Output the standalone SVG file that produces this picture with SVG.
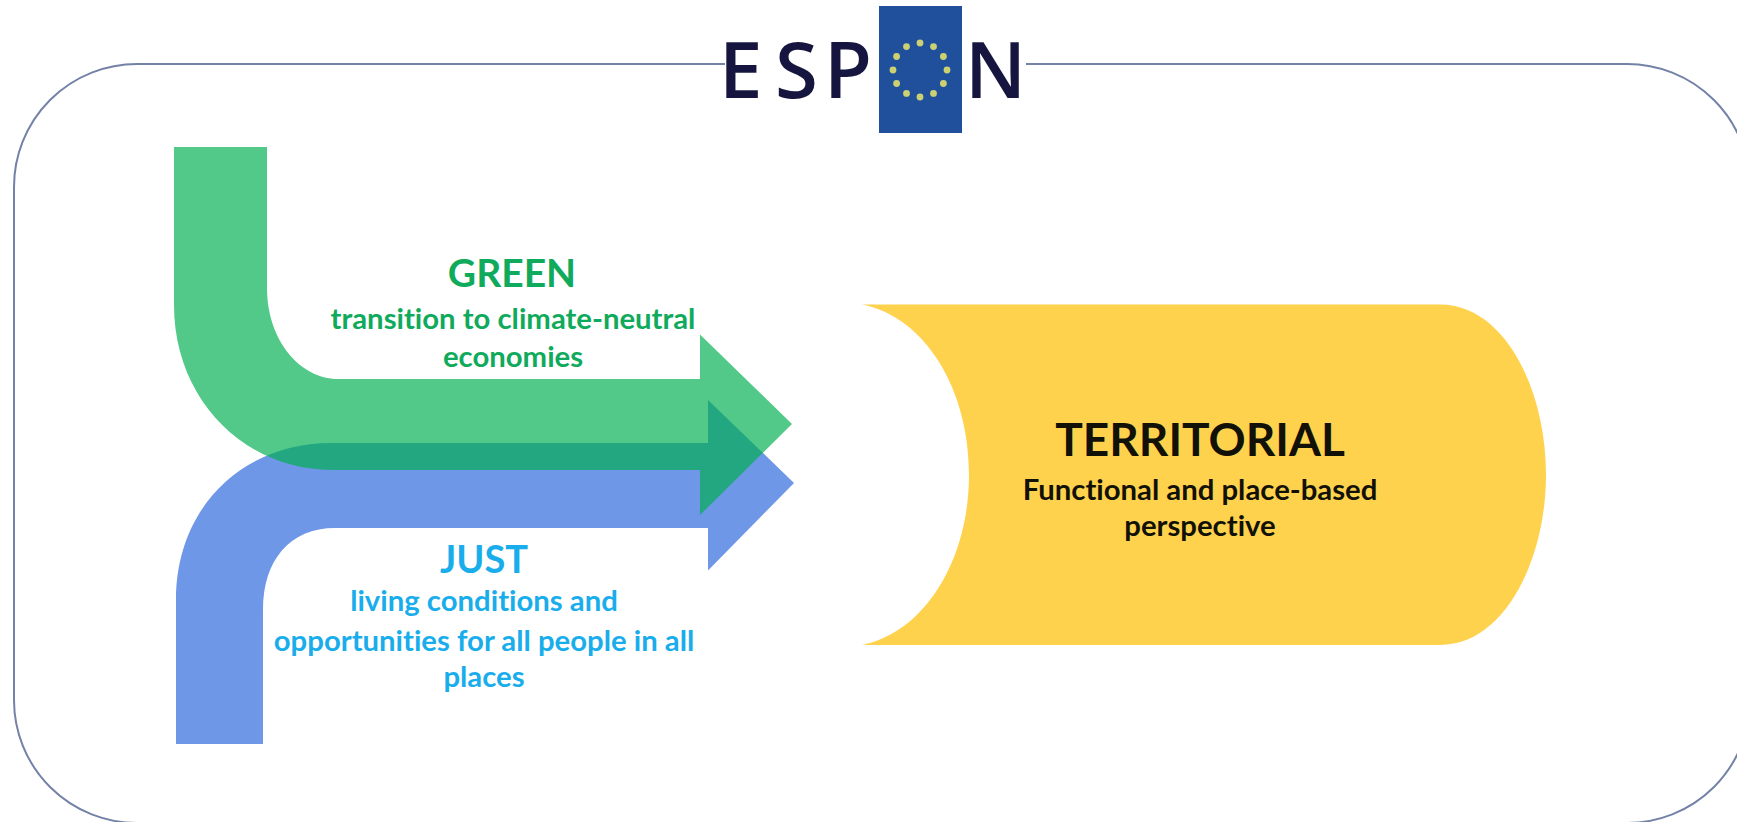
<svg xmlns="http://www.w3.org/2000/svg" width="1737" height="822" viewBox="0 0 1737 822">
<defs>
<style>
text{font-family:"Lato","Liberation Sans",sans-serif;font-weight:700;text-anchor:middle;font-variant-ligatures:none}
.g{fill:#0FAA5C}.b{fill:#1AADEB}.k{fill:#111108}
.s{font-size:29.300px}
.logo{font-family:"Open Sans","Liberation Sans",sans-serif;font-weight:600;font-size:78px;fill:#15153f;text-anchor:start}
.star{fill:#CBD172}
</style>
</defs>
<rect width="1737" height="822" fill="#fff"/>
<g id="frame"><path d="M725 64H137A123 123 0 0 0 14 187V700A123 123 0 0 0 137 823H1627A123 123 0 0 0 1750 700V187A123 123 0 0 0 1627 64H1026" fill="none" stroke="#7482A8" stroke-width="2"/></g>
<g id="logo">
<text class="logo" x="719 775 824" y="98">ESP</text>
<rect x="879" y="6" width="83" height="127" fill="#20509B"/>
<g class="star"><circle cx="920" cy="43" r="3.400"/><circle cx="933.500" cy="46.600" r="3.400"/><circle cx="943.400" cy="56.500" r="3.400"/><circle cx="947" cy="70" r="3.400"/><circle cx="943.400" cy="83.500" r="3.400"/><circle cx="933.500" cy="93.400" r="3.400"/><circle cx="920" cy="97" r="3.400"/><circle cx="906.500" cy="93.400" r="3.400"/><circle cx="896.600" cy="83.500" r="3.400"/><circle cx="893" cy="70" r="3.400"/><circle cx="896.600" cy="56.500" r="3.400"/><circle cx="906.500" cy="46.600" r="3.400"/></g>
<text class="logo" x="965" y="98">N</text>
</g>
<g id="connectors">
<path id="arrow-just" d="M176 744V600C176 505 245 443 331 443H708V400L794 483L708 570.500V528H335C290 528 263 560 263 610V744Z" fill="#6F97E8"/>
<path id="arrow-green" d="M174 147H267V288C267 340 300 379 338 379H700V334.500L792 424L700 515V470H332C245 470 174 400 174 305Z" fill="#00B050" fill-opacity=".68"/>
</g>
<g id="territorial">
<path d="M862 304.600H1440C1505 304.600 1546 390 1546 474.500C1546 559 1505 645 1440 645H862C925 632 969 560 969 474.500C969 389 925 317 862 304.600Z" fill="#FFD24D"/>
<text class="k" x="1200" y="456" font-size="46">TERRITORIAL</text>
<text class="k s" x="1200" y="500">Functional and place-based</text>
<text class="k s" x="1200" y="536">perspective</text>
</g>
<g id="green-label">
<text class="g" x="512" y="287" font-size="39">GREEN</text>
<text class="g s" x="513" y="329">transition to climate-neutral</text>
<text class="g s" x="513" y="367">economies</text>
</g>
<g id="just-label">
<text class="b" x="484" y="573" font-size="38">JUST</text>
<text class="b s" x="484" y="611">living conditions and</text>
<text class="b s" x="484" y="651">opportunities for all people in all</text>
<text class="b s" x="484" y="687">places</text>
</g>
</svg>
